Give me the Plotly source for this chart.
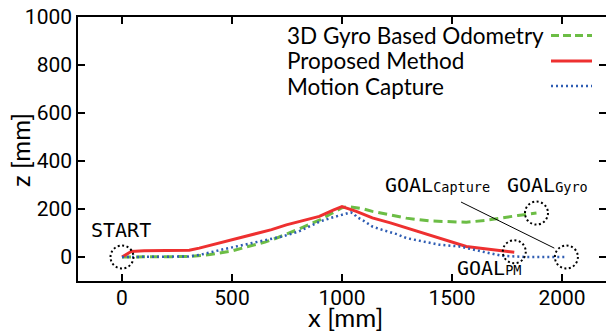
import plotly.graph_objects as go

# ---------------- data ----------------
gyro_x = [0, 100, 200, 300, 400, 450, 500, 550, 600, 650, 700, 750, 800, 850, 900, 950, 1000, 1030,
          1100, 1138, 1200, 1292, 1400, 1442, 1500, 1565, 1650, 1715, 1800, 1884]
gyro_z = [0, 0, 0, 2, 10, 17, 25, 38, 50, 62, 78, 95, 115, 135, 155, 180, 205, 210,
          200, 190, 178, 162, 150, 148, 145, 145, 152, 162, 173, 183]

pm_x = [0, 20, 42, 100, 200, 306, 351, 400, 488, 592, 680, 747, 820, 897, 960, 1000,
        1065, 1138, 1220, 1292, 1370, 1442, 1510, 1565, 1630, 1683, 1740, 1783]
pm_z = [0, 12, 23, 26, 26, 28, 37, 48, 70, 93, 114, 134, 150, 169, 195, 210,
        190, 163, 142, 122, 100, 80, 60, 44, 36, 30, 24, 20]

cap_x = [0, 150, 300, 350, 400, 450, 500, 590, 650, 730, 800, 900, 950, 1000, 1040, 1055, 1065,
         1100, 1138, 1183, 1250, 1292, 1350, 1442, 1533, 1565, 1650, 1729, 1837, 1950, 2020]
cap_z = [0, 0, 2, 8, 20, 30, 40, 58, 72, 86, 105, 148, 163, 176, 186, 180, 168,
         150, 127, 113, 95, 79, 68, 51, 44, 37, 20, 5, 0, 0, 0]

series_names = ["3D Gyro Based Odometry", "Proposed Method", "Motion Capture"]

x_ticks = [0, 500, 1000, 1500, 2000]
y_ticks = [0, 200, 400, 600, 800, 1000]

start_pt = (0, 0)
goal_gyro = (1884, 183)
goal_pm = (1783, 22)
goal_cap = (2020, 0)

# ---------------- style ----------------
W, H = 606, 331
L, R, T, B = 78, 0, 17, 50
PW, PH = W - L - R, H - T - B


def px(xp):
    return (xp - L) / PW


def py(yp):
    return (H - B - yp) / PH


GREEN = "#6cbd45"
RED = "#ee3030"
BLUE = "#2f5db3"
TICKFONT = dict(family="Roboto", size=21, color="black")
LABFONT = "DejaVu Sans Mono"

fig = go.Figure()
fig.add_trace(go.Scatter(x=gyro_x, y=gyro_z, mode="lines", name=series_names[0],
                         line=dict(color=GREEN, width=3, dash="9px,5px")))
fig.add_trace(go.Scatter(x=pm_x, y=pm_z, mode="lines", name=series_names[1],
                         line=dict(color=RED, width=3)))
fig.add_trace(go.Scatter(x=cap_x, y=cap_z, mode="lines", name=series_names[2],
                         line=dict(color=BLUE, width=2.5, dash="2px,3px")))
# dummy trace to activate the right tick axis
fig.add_trace(go.Scatter(x=[None], y=[None], yaxis="y2", showlegend=False, hoverinfo="skip"))

shapes = []
# dotted circles
for (cx, cy) in [start_pt, goal_gyro, goal_pm, goal_cap]:
    shapes.append(dict(type="circle", xref="x", yref="y", xsizemode="pixel", ysizemode="pixel",
                       xanchor=cx, yanchor=cy, x0=-11.5, x1=11.5, y0=-11.5, y1=11.5,
                       line=dict(color="black", width=2, dash="2px,2.5px")))
# leader line for GOAL capture
shapes.append(dict(type="line", xref="x", yref="y", x0=1541, y0=229, x1=1965, y1=37,
                   line=dict(color="black", width=1)))

# manual legend (text left, sample right)
legend_rows = [35.5, 61, 86]
legend_styles = [dict(color=GREEN, width=3, dash="8px,4px"),
                 dict(color=RED, width=3),
                 dict(color=BLUE, width=2.5, dash="2px,3px")]
annotations = []
for name, yr, st in zip(series_names, legend_rows, legend_styles):
    annotations.append(dict(xref="paper", yref="paper", x=px(285), y=py(yr), text=name,
                            showarrow=False, xanchor="left", yanchor="middle",
                            font=dict(family="Lato", size=22.5, color="black")))
    shapes.append(dict(type="line", xref="paper", yref="paper", x0=px(551), x1=px(592),
                       y0=py(yr), y1=py(yr), line=st))

# point labels
sub = "<span style='font-size:13.5px'>%s</span>"
annotations += [
    dict(xref="x", yref="y", x=-150, y=113, text="START", showarrow=False,
         xanchor="left", yanchor="middle", font=dict(family=LABFONT, size=20, color="black")),
    dict(xref="x", yref="y", x=1188, y=301, text="GOAL" + sub % "Capture", showarrow=False,
         xanchor="left", yanchor="middle", font=dict(family=LABFONT, size=20, color="black")),
    dict(xref="x", yref="y", x=1742, y=301, text="GOAL" + sub % "Gyro", showarrow=False,
         xanchor="left", yanchor="middle", font=dict(family=LABFONT, size=20, color="black")),
    dict(xref="x", yref="y", x=1515, y=-44, text="GOAL" + sub % "PM", showarrow=False,
         xanchor="left", yanchor="middle", font=dict(family=LABFONT, size=20, color="black")),
    # axis titles
    dict(xref="paper", yref="paper", x=px(345.5), y=py(317), text="x [mm]", showarrow=False,
         xanchor="center", yanchor="middle", font=dict(family="Lato", size=25.5, color="black")),
    dict(xref="paper", yref="paper", x=px(20), y=py(150), text="z [mm]", showarrow=False,
         textangle=-90, xanchor="center", yanchor="middle",
         font=dict(family="Lato", size=25.5, color="black")),
]

axis_common = dict(showgrid=False, zeroline=False, ticks="inside", ticklen=7, tickwidth=1.5,
                   tickcolor="black", tickfont=TICKFONT)

fig.update_layout(
    width=W, height=H,
    margin=dict(l=L, r=R, t=T, b=B, pad=0),
    plot_bgcolor="white", paper_bgcolor="white",
    showlegend=False,
    xaxis=dict(range=[-200, 2200], tickvals=x_ticks, showline=True, linecolor="black",
               linewidth=1.5, mirror="ticks", ticklabelstandoff=-3, **axis_common),
    yaxis=dict(range=[-100, 1000], tickvals=y_ticks, showline=True, linecolor="black",
               linewidth=1.5, mirror=False, **axis_common),
    yaxis2=dict(range=[-100, 1000], tickvals=y_ticks, overlaying="y", side="right",
                showline=False, showticklabels=False, showgrid=False, zeroline=False,
                ticks="inside", ticklen=7, tickwidth=1.5, tickcolor="black"),
    shapes=shapes,
    annotations=annotations,
)

fig.write_html("out.html")
